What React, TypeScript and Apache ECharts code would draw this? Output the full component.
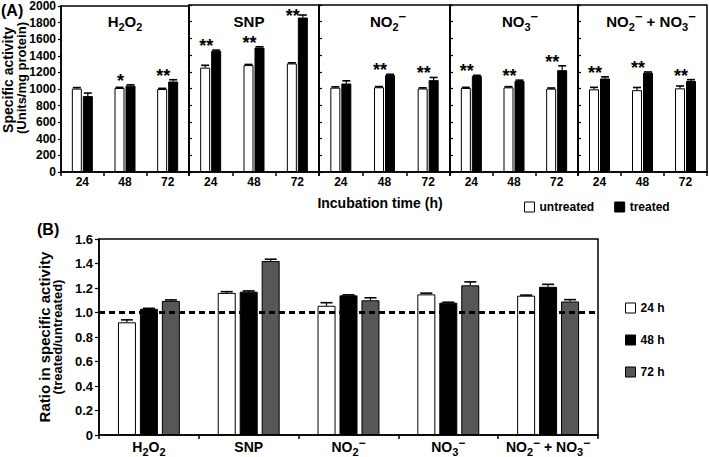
import React, { useEffect, useRef } from 'react';
import * as echarts from 'echarts';

// ---------- data ----------
const panelNames = ['H₂O₂', 'SNP', 'NO₂⁻', 'NO₃⁻', 'NO₂⁻ + NO₃⁻'];
const hours = ['24', '48', '72'];

// Panel A: specific activity (Units/mg protein), per panel: [24h, 48h, 72h]
const untreatedActivity = [
  [1005, 1012, 1000],
  [1250, 1280, 1300],
  [1010, 1015, 1000],
  [1006, 1014, 998],
  [990, 980, 1002],
];
const untreatedError = [
  [12, 8, 8],
  [28, 8, 8],
  [10, 8, 8],
  [8, 8, 8],
  [24, 32, 28],
];
const treatedActivity = [
  [915, 1040, 1090],
  [1450, 1490, 1850],
  [1060, 1160, 1100],
  [1150, 1090, 1220],
  [1120, 1190, 1090],
];
const treatedError = [
  [36, 10, 22],
  [10, 10, 30],
  [32, 10, 32],
  [8, 10, 52],
  [20, 8, 16],
];
const significance = [
  ['', '*', '**'],
  ['**', '**', '**'],
  ['', '**', '**'],
  ['**', '**', '**'],
  ['**', '**', '**'],
];
const activityTicks = { min: 0, max: 2000, interval: 200 };

// Panel B: ratio treated / untreated
const ratio24 = [0.92, 1.16, 1.055, 1.148, 1.137];
const ratio24Error = [0.02, 0.01, 0.025, 0.01, 0.005];
const ratio48 = [1.03, 1.17, 1.14, 1.08, 1.21];
const ratio48Error = [0.004, 0.006, 0.004, 0.004, 0.02];
const ratio72 = [1.095, 1.42, 1.1, 1.222, 1.09];
const ratio72Error = [0.008, 0.015, 0.02, 0.028, 0.015];
const ratioTicks = { min: 0, max: 1.6, interval: 0.2 };
const referenceRatio = 1.0;

// ---------- layout ----------
const FONT = "'Liberation Sans', Arial, 'DejaVu Sans', sans-serif";
const panelLefts = [61, 189, 319, 450, 578];
const panelRights = [189, 319, 450, 578, 707];
const panelTitleX = [125, 249, 388, 520, 651];
const aTop = 5;
const aHeight = 167;

// convert unicode sub/superscripts to rich-text tokens
function toRich(name: string) {
  let out = '';
  let buf = '';
  const flush = () => {
    if (buf) out += `{n|${buf}}`;
    buf = '';
  };
  for (const ch of name) {
    if (ch === '₂' || ch === '₃') {
      flush();
      out += `{s|${ch === '₂' ? '2' : '3'}}`;
    } else if (ch === '⁻') {
      flush();
      out += '{p|−}';
    } else buf += ch;
  }
  flush();
  return out;
}

function richStyles(size: number, lh: number) {
  return {
    n: { fontFamily: FONT, fontWeight: 'bold', fontSize: size, lineHeight: lh, color: '#000', fill: '#000' },
    s: { fontFamily: FONT, fontWeight: 'bold', fontSize: Math.round(size * 0.75), lineHeight: Math.round(size * 0.75), verticalAlign: 'bottom', color: '#000', fill: '#000' },
    p: { fontFamily: FONT, fontWeight: 'bold', fontSize: Math.round(size * 0.85), lineHeight: Math.round(size * 0.85), verticalAlign: 'top', color: '#000', fill: '#000' },
  };
}

function errRender(offset: number, capHalf: number, stars?: string[]) {
  return (params: any, api: any) => {
    const cat = api.value(0);
    const v = api.value(1);
    const e = api.value(2);
    const base = api.coord([cat, v]);
    const top = api.coord([cat, v + e]);
    const x = base[0] + offset;
    const children: any[] = [
      { type: 'line', shape: { x1: x, y1: base[1], x2: x, y2: top[1] }, style: { stroke: '#000', lineWidth: 1.2 } },
      { type: 'line', shape: { x1: x - capHalf, y1: top[1], x2: x + capHalf, y2: top[1] }, style: { stroke: '#000', lineWidth: 1.6 } },
    ];
    if (stars) {
      const s = stars[params.dataIndex];
      if (s) {
        children.push({
          type: 'text',
          x: base[0] - offset + 1,
          y: Math.max(top[1] - 4, aTop + 11),
          style: {
            text: s,
            fill: '#000',
            font: `bold 18px ${FONT}`,
            textAlign: 'center',
            textVerticalAlign: 'middle',
          },
        });
      }
    }
    return { type: 'group', children };
  };
}

function buildOption() {
  const grid: any[] = [];
  const xAxis: any[] = [];
  const yAxis: any[] = [];
  const series: any[] = [];
  const graphic: any[] = [];

  const axisLine = { show: true, lineStyle: { color: '#000', width: 1.5 } };

  panelNames.forEach((name, g) => {
    grid.push({
      left: panelLefts[g],
      top: aTop,
      width: panelRights[g] - panelLefts[g],
      height: aHeight,
      show: true,
      borderColor: '#000',
      borderWidth: 1.5,
      backgroundColor: 'transparent',
    });
    xAxis.push({
      type: 'category',
      gridIndex: g,
      data: hours,
      axisLine,
      axisTick: { show: true, length: 4, lineStyle: { color: '#000', width: 1.5 } },
      axisLabel: { color: '#000', fontFamily: FONT, fontWeight: 'bold', fontSize: 12, margin: 4, interval: 0 },
    });
    yAxis.push({
      type: 'value',
      gridIndex: g,
      min: activityTicks.min,
      max: activityTicks.max,
      interval: activityTicks.interval,
      splitLine: { show: false },
      axisLine,
      axisTick: { show: true, inside: g !== 0, length: 3, lineStyle: { color: '#000', width: 1.2 } },
      axisLabel: {
        show: g === 0,
        color: '#000',
        fontFamily: FONT,
        fontWeight: 'bold',
        fontSize: 12,
        margin: 5,
        formatter: (v: number) => String(v),
      },
    });
    series.push({
      type: 'bar',
      name: 'untreated',
      xAxisIndex: g,
      yAxisIndex: g,
      data: untreatedActivity[g],
      barWidth: 10,
      barGap: '10%',
      itemStyle: { color: '#fff', borderColor: '#000', borderWidth: 1 },
    });
    series.push({
      type: 'bar',
      name: 'treated',
      xAxisIndex: g,
      yAxisIndex: g,
      data: treatedActivity[g],
      barWidth: 10,
      barGap: '10%',
      itemStyle: { color: '#000', borderColor: '#000', borderWidth: 1 },
    });
    series.push({
      type: 'custom',
      xAxisIndex: g,
      yAxisIndex: g,
      z: 5,
      renderItem: errRender(-5.5, 4),
      encode: { x: 0, y: 1 },
      data: untreatedActivity[g].map((v, i) => [i, v, untreatedError[g][i]]),
    });
    series.push({
      type: 'custom',
      xAxisIndex: g,
      yAxisIndex: g,
      z: 5,
      renderItem: errRender(5.5, 4, significance[g]),
      encode: { x: 0, y: 1 },
      data: treatedActivity[g].map((v, i) => [i, v, treatedError[g][i]]),
    });
    graphic.push({
      type: 'text',
      x: panelTitleX[g],
      y: 21,
      style: {
        text: toRich(name),
        rich: richStyles(15, 22),
        fill: '#000',
        font: `bold 15px ${FONT}`,
        textAlign: 'center',
        textVerticalAlign: 'middle',
      },
    });
  });

  // Panel B
  const gB = 5;
  grid.push({
    left: 99,
    top: 239,
    width: 499,
    height: 196,
    show: true,
    borderColor: '#000',
    borderWidth: 1.5,
    backgroundColor: 'transparent',
  });
  xAxis.push({
    type: 'category',
    gridIndex: gB,
    data: panelNames,
    axisLine,
    axisTick: { show: true, length: 4, lineStyle: { color: '#000', width: 1.5 } },
    axisLabel: {
      color: '#000',
      fontFamily: FONT,
      fontWeight: 'bold',
      fontSize: 13,
      margin: 2,
      interval: 0,
      formatter: (v: string) => toRich(v),
      rich: richStyles(14, 20),
    },
  });
  yAxis.push({
    type: 'value',
    gridIndex: gB,
    min: ratioTicks.min,
    max: ratioTicks.max,
    interval: ratioTicks.interval,
    splitLine: { show: false },
    axisLine,
    axisTick: { show: true, length: 4, lineStyle: { color: '#000', width: 1.2 } },
    axisLabel: {
      color: '#000',
      fontFamily: FONT,
      fontWeight: 'bold',
      fontSize: 13,
      margin: 6,
      formatter: (v: number) => (v === 0 ? '0' : v.toFixed(1)),
    },
  });
  const bSets = [
    { name: '24 h', data: ratio24, err: ratio24Error, color: '#fff', offset: -22 },
    { name: '48 h', data: ratio48, err: ratio48Error, color: '#000', offset: 0 },
    { name: '72 h', data: ratio72, err: ratio72Error, color: '#575757', offset: 22 },
  ];
  bSets.forEach((s) => {
    series.push({
      type: 'bar',
      name: s.name,
      xAxisIndex: gB,
      yAxisIndex: gB,
      data: s.data,
      barWidth: 18,
      barGap: '22%',
      itemStyle: { color: s.color, borderColor: '#000', borderWidth: 1 },
    });
  });
  bSets.forEach((s) => {
    series.push({
      type: 'custom',
      xAxisIndex: gB,
      yAxisIndex: gB,
      z: 5,
      renderItem: errRender(s.offset, 6),
      encode: { x: 0, y: 1 },
      data: s.data.map((v, i) => [i, v, s.err[i]]),
    });
  });
  series.push({
    type: 'line',
    xAxisIndex: gB,
    yAxisIndex: gB,
    data: [],
    z: 6,
    markLine: {
      silent: true,
      symbol: 'none',
      label: { show: false },
      lineStyle: { color: '#000', width: 3, type: [6, 4] },
      data: [{ yAxis: referenceRatio }],
    },
  });

  const rotText = (text: string, x: number, y: number, size: number) => ({
    type: 'text',
    x,
    y,
    rotation: Math.PI / 2,
    style: {
      text,
      fill: '#000',
      font: `bold ${size}px ${FONT}`,
      textAlign: 'center',
      textVerticalAlign: 'middle',
    },
  });

  // axis titles and panel letters
  graphic.push(
    { type: 'text', x: 1, y: 2, style: { text: '(A)', fill: '#000', font: `bold 16px ${FONT}` } },
    { type: 'text', x: 37, y: 221, style: { text: '(B)', fill: '#000', font: `bold 16px ${FONT}` } },
    rotText('Specific activity', 8, 80, 14),
    rotText('(Units/mg protein)', 21, 78, 13),
    rotText('Ratio in specific activity', 44, 337, 15),
    rotText('(treated/untreated)', 57, 337, 13),
    {
      type: 'text',
      x: 380,
      y: 203,
      style: {
        text: 'Incubation time (h)',
        fill: '#000',
        font: `bold 14px ${FONT}`,
        textAlign: 'center',
        textVerticalAlign: 'middle',
      },
    }
  );

  const legendText = { color: '#000', fontFamily: FONT, fontWeight: 'bold', fontSize: 12 };
  return {
    animation: false,
    backgroundColor: '#fff',
    grid,
    xAxis,
    yAxis,
    series,
    graphic,
    legend: [
      {
        data: ['untreated', 'treated'],
        left: 524,
        top: 201,
        orient: 'horizontal',
        icon: 'rect',
        itemWidth: 10,
        itemHeight: 10,
        itemGap: 20,
        padding: 0,
        selectedMode: false,
        itemStyle: { borderColor: '#000', borderWidth: 1 },
        textStyle: legendText,
      },
      {
        data: ['24 h', '48 h', '72 h'],
        left: 625,
        top: 302,
        orient: 'vertical',
        icon: 'rect',
        itemWidth: 10,
        itemHeight: 10,
        itemGap: 20,
        padding: 0,
        selectedMode: false,
        itemStyle: { borderColor: '#000', borderWidth: 1 },
        textStyle: legendText,
      },
    ],
  };
}

export default function App() {
  const ref = useRef<HTMLDivElement>(null);
  useEffect(() => {
    if (!ref.current) return;
    const chart = echarts.init(ref.current, undefined, { renderer: 'svg' });
    chart.setOption(buildOption() as any);
    return () => chart.dispose();
  }, []);
  return (
    <div
      ref={ref}
      style={{ position: 'fixed', left: 0, top: 0, width: 709, height: 457, background: '#fff' }}
    />
  );
}
